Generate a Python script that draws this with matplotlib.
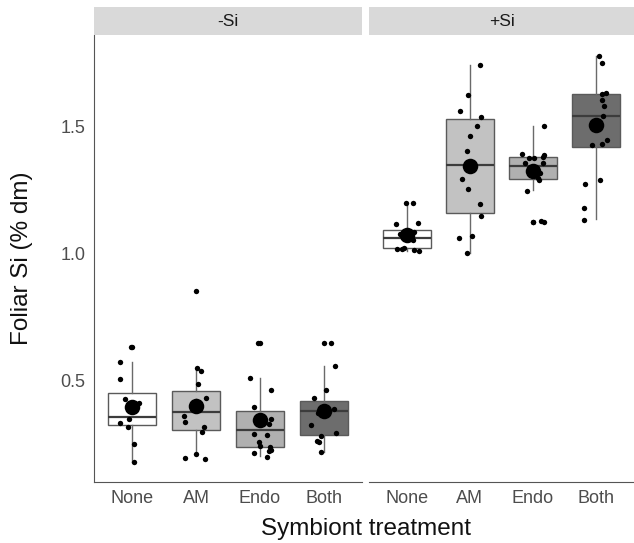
import matplotlib.pyplot as plt

plt.rcParams["font.family"] = ["Liberation Sans", "DejaVu Sans"]

TREATMENTS = ["None", "AM", "Endo", "Both"]
PANELS = ["-Si", "+Si"]
FILLS = ["#ffffff", "#c2c2c2", "#b0b0b0", "#6d6d6d"]

# box statistics, order: None, AM, Endo, Both
minus_q1 = [0.325, 0.308, 0.241, 0.286]
minus_med = [0.359, 0.377, 0.306, 0.383]
minus_q3 = [0.452, 0.462, 0.382, 0.422]
minus_wlo = [0.182, 0.213, 0.205, 0.220]
minus_whi = [0.574, 0.550, 0.512, 0.559]
minus_mean = [0.399, 0.403, 0.346, 0.383]
minus_out = [[0.634], [0.854], [0.648], [0.651]]

plus_q1 = [1.022, 1.163, 1.294, 1.422]
plus_med = [1.064, 1.350, 1.347, 1.542]
plus_q3 = [1.094, 1.530, 1.381, 1.631]
plus_wlo = [1.012, 1.005, 1.250, 1.137]
plus_whi = [1.202, 1.745, 1.505, 1.778]
plus_mean = [1.074, 1.348, 1.326, 1.508]
plus_out = [[], [], [1.127], []]

# individual (jittered) observations and their horizontal jitter
minus_pts = [
    [0.634, 0.574, 0.508, 0.430, 0.412, 0.390, 0.349, 0.334, 0.317, 0.252, 0.182, 0.400, 0.410, 0.380],
    [0.550, 0.541, 0.487, 0.434, 0.420, 0.362, 0.340, 0.317, 0.300, 0.213, 0.198, 0.192, 0.410],
    [0.648, 0.512, 0.466, 0.398, 0.350, 0.330, 0.291, 0.286, 0.261, 0.245, 0.240, 0.228, 0.226, 0.217, 0.202, 0.340],
    [0.651, 0.559, 0.466, 0.434, 0.389, 0.375, 0.390, 0.328, 0.293, 0.285, 0.262, 0.260, 0.219],
]
minus_jit = [
    [-0.02, -0.20, -0.20, -0.11, 0.11, -0.04, -0.05, -0.19, -0.07, 0.03, 0.03, 0.00, 0.05, -0.02],
    [0.01, 0.08, 0.03, 0.16, 0.00, -0.19, -0.17, 0.13, 0.09, 0.00, -0.18, 0.14, -0.03],
    [-0.03, -0.16, 0.17, -0.09, 0.18, 0.14, -0.10, 0.11, -0.01, 0.00, 0.16, 0.18, 0.14, -0.10, 0.11, 0.02],
    [0.11, 0.18, 0.03, -0.15, 0.16, -0.09, 0.00, -0.20, 0.20, -0.05, -0.11, -0.08, -0.04],
]
plus_pts = [
    [1.202, 1.199, 1.117, 1.121, 1.080, 1.085, 1.070, 1.065, 1.053, 1.018, 1.020, 1.022, 1.015, 1.012],
    [1.745, 1.627, 1.563, 1.541, 1.502, 1.466, 1.406, 1.295, 1.254, 1.196, 1.149, 1.062, 1.069, 1.005],
    [1.505, 1.395, 1.390, 1.380, 1.376, 1.376, 1.358, 1.358, 1.320, 1.300, 1.290, 1.248, 1.127, 1.130, 1.125],
    [1.778, 1.752, 1.635, 1.630, 1.607, 1.581, 1.545, 1.449, 1.430, 1.432, 1.277, 1.290, 1.180, 1.134],
]
plus_jit = [
    [-0.02, 0.09, -0.17, 0.17, -0.11, 0.12, 0.03, -0.05, 0.10, -0.16, -0.07, -0.05, 0.12, 0.19],
    [0.16, -0.03, -0.16, 0.17, 0.11, 0.00, -0.04, -0.12, -0.03, 0.16, 0.17, -0.17, 0.03, -0.05],
    [0.18, -0.18, 0.17, 0.16, -0.07, 0.02, -0.13, 0.16, 0.11, 0.08, 0.10, -0.09, 0.00, 0.13, 0.17],
    [0.05, 0.09, 0.16, 0.10, 0.10, 0.12, 0.11, 0.17, -0.06, 0.09, -0.17, 0.06, -0.19, -0.19],
]


def draw_panel(ax, q1, med, q3, wlo, whi, means, outs, pts, jit):
    xs = range(1, len(TREATMENTS) + 1)
    stats = []
    for i in range(len(TREATMENTS)):
        stats.append({"q1": q1[i], "med": med[i], "q3": q3[i],
                      "whislo": wlo[i], "whishi": whi[i], "fliers": []})
    bp = ax.bxp(stats, positions=list(xs), widths=0.75, patch_artist=True,
                showfliers=False, showcaps=False,
                boxprops={"edgecolor": "#5a5a5a", "linewidth": 1.0},
                medianprops={"color": "#3c3c3c", "linewidth": 1.6},
                whiskerprops={"color": "#6a6a6a", "linewidth": 1.0})
    for patch, c in zip(bp["boxes"], FILLS):
        patch.set_facecolor(c)

    for x, o in zip(xs, outs):
        if o:
            ax.scatter([x] * len(o), o, s=15, color="black", zorder=3, linewidths=0)
    for x, p, j in zip(xs, pts, jit):
        ax.scatter([x + d for d in j], p, s=15, color="black", zorder=3, linewidths=0)
    ax.scatter(list(xs), means, s=125, color="black", zorder=4, linewidths=0)

    ax.set_xlim(0.4, 4.6)
    ax.set_ylim(0.102, 1.862)
    ax.set_xticks(list(xs))
    ax.set_xticklabels(TREATMENTS)
    ax.tick_params(length=0, labelsize=13, labelcolor="#4d4d4d", pad=6)
    for s in ["top", "right"]:
        ax.spines[s].set_visible(False)
    ax.spines["bottom"].set_color("#555555")
    ax.spines["left"].set_color("#555555")


def main():
    W, H = 634, 543
    fig = plt.figure(figsize=(W / 100, H / 100), dpi=100)

    bottom = 1 - 482 / H
    height = (482 - 35) / H
    ax1 = fig.add_axes([94 / W, bottom, 268 / W, height])
    ax2 = fig.add_axes([369 / W, bottom, 265 / W, height])

    draw_panel(ax1, minus_q1, minus_med, minus_q3, minus_wlo, minus_whi,
               minus_mean, minus_out, minus_pts, minus_jit)
    draw_panel(ax2, plus_q1, plus_med, plus_q3, plus_wlo, plus_whi,
               plus_mean, plus_out, plus_pts, plus_jit)

    ax1.set_yticks([0.5, 1.0, 1.5])
    ax1.set_yticklabels(["0.5", "1.0", "1.5"])
    ax2.set_yticks([])
    ax2.spines["left"].set_visible(False)

    # facet strips
    for left, width, label in [(94, 268, PANELS[0]), (369, 265, PANELS[1])]:
        sax = fig.add_axes([left / W, 1 - 35 / H, width / W, 28 / H])
        sax.set_facecolor("#d9d9d9")
        sax.set_xticks([])
        sax.set_yticks([])
        for s in sax.spines.values():
            s.set_visible(False)
        sax.text(0.5, 0.5, label, ha="center", va="center", fontsize=12.5,
                 color="#1a1a1a", transform=sax.transAxes)

    fig.text(366 / W, 1 - 529 / H, "Symbiont treatment", ha="center", va="center",
             fontsize=17.5, color="#111111")
    fig.text(22 / W, 1 - 258 / H, "Foliar Si (% dm)", ha="center", va="center",
             rotation=90, fontsize=17.5, color="#111111")

    fig.savefig("out.png", dpi=100)
    plt.close(fig)


if __name__ == "__main__":
    main()
